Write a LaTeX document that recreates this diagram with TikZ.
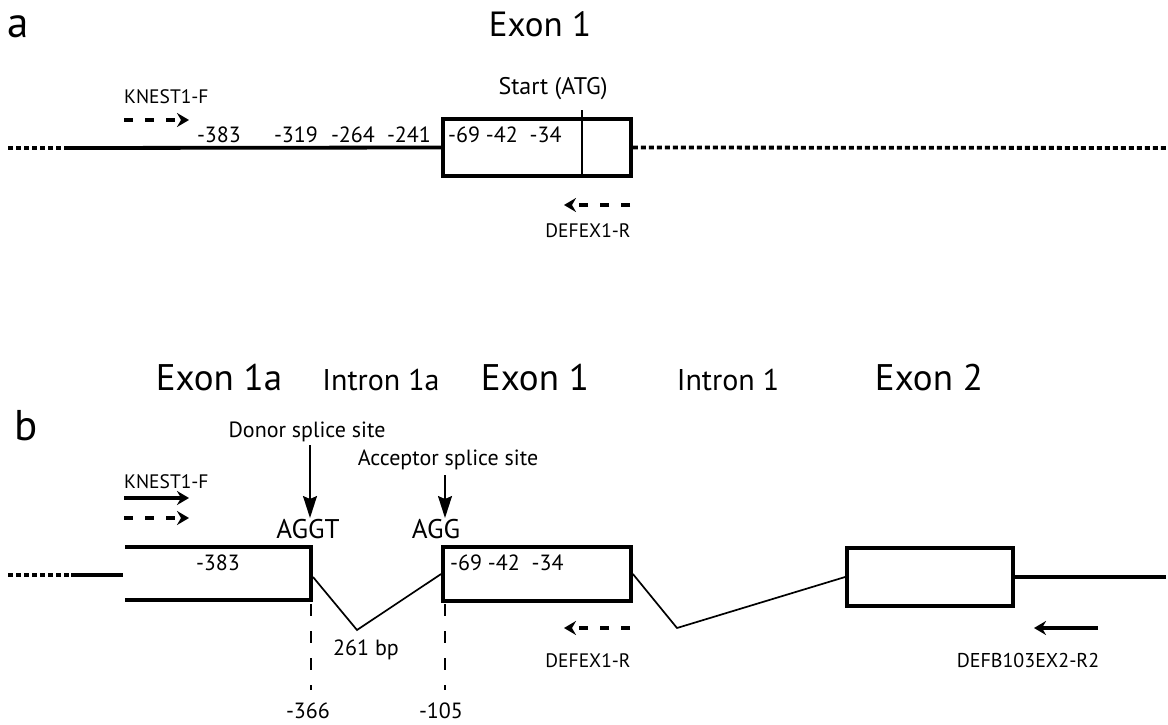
\documentclass[tikz,border=0pt]{standalone}
\usepackage{fontspec}
\setmainfont{PT Sans}
\usetikzlibrary{arrows.meta}
\tikzset{
  mainline/.style={line width=3.8pt},
  dotline/.style={line width=3.8pt, dash pattern=on 5pt off 3pt},
  thinline/.style={line width=1.7pt},
  exonbox/.style={draw, line width=3.8pt, inner sep=0pt, fill=white},
  primer/.style={line width=3.6pt, -{Stealth[length=12pt,width=14pt,inset=4pt]}},
  dprimer/.style={primer, dash pattern=on 9pt off 12pt},
  site/.style={line width=1.6pt, -{Stealth[length=22pt,width=14pt,inset=3pt]}},
  vdash/.style={line width=1.8pt, dash pattern=on 12pt off 15pt},
  lbl/.style={font=\fontsize{19.5}{22}\selectfont, inner sep=0pt, anchor=base},
  num/.style={font=\fontsize{22}{26}\selectfont, inner sep=0pt, anchor=base},
  site lbl/.style={font=\fontsize{22}{26}\selectfont, inner sep=0pt, anchor=base},
  head/.style={font=\fontsize{37}{42}\selectfont, inner sep=0pt, anchor=base},
  subhead/.style={font=\fontsize{30}{34}\selectfont, inner sep=0pt, anchor=base},
  panel/.style={font=\fontsize{43}{48}\selectfont, inner sep=0pt, anchor=base},
}
\begin{document}
\begin{tikzpicture}[x=1pt,y=-1pt]
\useasboundingbox (0,0) rectangle (1168,725);
% ---------------- panel a ----------------
\node[panel] (pa) at (18,38) {a};
\node[head, font=\fontsize{35}{40}\selectfont] (ha) at (540,37) {Exon 1};
\node[exonbox, minimum width=188pt, minimum height=57pt] (ea) at (537,147.5) {};
\coordinate (aL) at (8,148);
\coordinate (aM) at (68,148);
\coordinate (aR) at (1168,148);
\draw[dotline] (aL) -- (aM);
\draw[mainline] (aM) -- (ea.west);
\draw[dotline] (ea.east) -- (aR);
\coordinate (atgtop) at (582,110);
\draw[line width=1.6pt] (atgtop) -- (atgtop |- ea.south);
\node[lbl, font=\fontsize{24}{28}\selectfont] (start) at (553,95) {Start (ATG)};
\node[num] (a383) at (219,142) {-383};
\node[num] (a319) at (296,142) {-319};
\node[num] (a264) at (353,142) {-264};
\node[num] (a241) at (409,142) {-241};
\node[num, anchor=base west] (a69) at (448,142) {-69 -42\ \ -34};
\node[lbl, anchor=base west] (kna) at (124,103) {KNEST1-F};
\coordinate (kna1) at (124,120);
\coordinate (kna2) at (189,120);
\draw[dprimer] (kna1) -- (kna2);
\coordinate (dfa1) at (630,205);
\coordinate (dfa2) at (564,205);
\draw[dprimer] (dfa1) -- (dfa2);
\node[lbl] (dfa) at (588,237) {DEFEX1-R};
% ---------------- panel b ----------------
\node[panel] (pb) at (26,440) {b};
\node[head] (h1a) at (219,390) {Exon 1a};
\node[subhead] (hi1a) at (381,390) {Intron 1a};
\node[head] (h1) at (535,390) {Exon 1};
\node[subhead] (hi1) at (728,390) {Intron 1};
\node[head] (h2) at (929,390) {Exon 2};
% exon 1a (open left)
\coordinate (e1aTL) at (125,547);
\coordinate (e1aTR) at (311,547);
\coordinate (e1aBR) at (311,600);
\coordinate (e1aBL) at (125,600);
\draw[mainline] (e1aTL) -- (e1aTR) -- (e1aBR) -- (e1aBL);
\node[num] (b383) at (218,570) {-383};
\coordinate (bL) at (8,575);
\coordinate (bM) at (71,575);
\coordinate (bM2) at (123,575);
\draw[dotline] (bL) -- (bM);
\draw[mainline] (bM) -- (bM2);
% exon 1
\node[exonbox, minimum width=188pt, minimum height=54pt] (eb1) at (537,574) {};
\node[num, anchor=base west] (b69) at (450,570) {-69 -42\ \ -34};
% exon 2
\node[exonbox, minimum width=166pt, minimum height=58pt] (eb2) at (930,577) {};
\coordinate (bR) at (1166,577);
\draw[mainline] (eb2.east) -- (bR);
% introns
\coordinate (i1aS) at (313,577);
\coordinate (i1a) at (357,630);
\coordinate (i1) at (677,628);
\draw[thinline] (i1aS) -- (i1a) -- (eb1.west);
\draw[thinline] (eb1.east) -- (i1) -- (eb2.west);
\node[site lbl] (bp) at (366,655) {261 bp};
% splice sites
\node[site lbl] (donor) at (307,437) {Donor splice site};
\node[site lbl] (acc) at (448,465) {Acceptor splice site};
\node[lbl, font=\fontsize{27}{30}\selectfont] (aggt) at (308,538) {AGGT};
\node[lbl, font=\fontsize{27}{30}\selectfont] (agg) at (436,538) {AGG};
\coordinate (d1) at (310,445);
\coordinate (d2) at (310,518);
\coordinate (c1) at (445,475);
\coordinate (c2) at (445,518);
\draw[site] (d1) -- (d2);
\draw[site] (c1) -- (c2);
% vertical dashed markers
\coordinate (v1t) at (311,604);
\coordinate (v1b) at (311,690);
\coordinate (v2t) at (445,604);
\coordinate (v2b) at (445,690);
\draw[vdash] (v1t) -- (v1b);
\draw[vdash] (v2t) -- (v2b);
\node[num] (m366) at (308,718) {-366};
\node[num] (m105) at (441,718) {-105};
% primers
\node[lbl, anchor=base west] (knb) at (124,488) {KNEST1-F};
\coordinate (knb1) at (124,498);
\coordinate (knb2) at (189,498);
\draw[primer] (knb1) -- (knb2);
\coordinate (knb3) at (124,518);
\coordinate (knb4) at (189,518);
\draw[dprimer] (knb3) -- (knb4);
\coordinate (dfb1) at (630,628);
\coordinate (dfb2) at (564,628);
\draw[dprimer] (dfb1) -- (dfb2);
\node[lbl] (dfb) at (588,667) {DEFEX1-R};
\coordinate (r21) at (1098,628);
\coordinate (r22) at (1034,628);
\draw[primer] (r21) -- (r22);
\node[lbl, font=\fontsize{20}{24}\selectfont] (r2) at (1028,667) {DEFB103EX2-R2};
\end{tikzpicture}
\end{document}
